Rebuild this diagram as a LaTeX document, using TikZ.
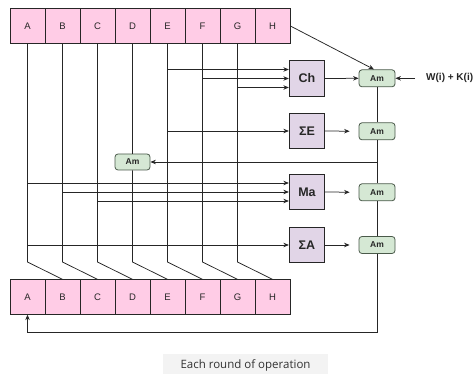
\documentclass[tikz,border=0pt]{standalone}
\usepackage{fontspec}
\setmainfont{Liberation Sans}
\newfontfamily\capfont{Open Sans}
\usetikzlibrary{arrows.meta,calc}
\definecolor{regfill}{HTML}{FFCCE6}
\definecolor{opfill}{HTML}{E1D5E7}
\definecolor{addfill}{HTML}{D5E8D4}
\definecolor{addline}{HTML}{4A5A4A}
\definecolor{wire}{HTML}{262626}
\definecolor{capfill}{HTML}{F3F3F3}
\tikzset{
  reg/.style={draw=wire, line width=0.8pt, fill=regfill, minimum width=35pt, minimum height=34.5pt,
    inner sep=0pt, font=\fontsize{9.5}{11}\selectfont, text=black!85},
  opbox/.style={draw=wire, line width=0.8pt, fill=opfill, minimum width=35.5pt, minimum height=35.5pt,
    inner sep=0pt, font=\fontsize{12.5}{14}\selectfont\bfseries, text=black!85},
  adder/.style={draw=addline, line width=0.8pt, fill=addfill, rounded corners=3pt, minimum width=36pt,
    minimum height=17pt, inner sep=0pt, font=\fontsize{8.5}{9}\selectfont\bfseries, text=black!85},
  wireline/.style={draw=wire, line width=0.75pt},
  arr/.style={wireline, -{Stealth[length=5.5pt,width=4.5pt]}},
}
\begin{document}
\begin{tikzpicture}[x=1pt,y=-1pt]
\useasboundingbox (0,0) rectangle (476,374);
\fill[white] (0,0) rectangle (476,374);

% register rows before and after the round
\foreach \l [count=\i from 0] in {A,B,C,D,E,F,G,H} {
  \node[reg] (t\l) at (27.5+35*\i, 26) {\l};
  \node[reg] (b\l) at (27.5+35*\i, 297) {\l};
}

% round functions
\node[opbox] (ch) at (307,78.5) {Ch};
\node[opbox] (se) at (307,131) {ΣE};
\node[opbox] (ma) at (307,192) {Ma};
\node[opbox] (sa) at (307,245) {ΣA};

% modular adders
\node[adder] (am1) at (377,78.3) {Am};
\node[adder] (am2) at (377,131.3) {Am};
\node[adder] (am3) at (377,192.3) {Am};
\node[adder] (am4) at (377,245) {Am};
\node[adder, minimum width=35pt, minimum height=16pt] (amd) at (132.5,162) {Am};

\node[anchor=west, inner sep=0pt, font=\fontsize{10}{11}\selectfont\bfseries, text=black!85] (wk) at (426,78.3) {W(i) + K(i)};

% bend points where each word shifts one place to the right
\foreach \l [count=\i from 0] in {A,B,C,D,E,F,G} {
  \coordinate (k\l) at (27.5+35*\i, 262);
}

% word shifts
\draw[wireline] (tA.south) -- (kA) -- (bB.north);
\draw[wireline] (tB.south) -- (kB) -- (bC.north);
\draw[wireline] (tC.south) -- (kC) -- (bD.north);
\draw[wireline] (tD.south) -- (amd.north);
\draw[wireline] (amd.south) -- (kD) -- (bE.north);
\draw[wireline] (tE.south) -- (kE) -- (bF.north);
\draw[wireline] (tF.south) -- (kF) -- (bG.north);
\draw[wireline] (tG.south) -- (kG) -- (bH.north);

% inputs of Ch
\draw[arr] ([yshift=9pt]ch.west -| tE.south) -- ([yshift=9pt]ch.west);
\draw[arr] (ch.west -| tF.south) -- (ch.west);
\draw[arr] ([yshift=-9pt]ch.west -| tG.south) -- ([yshift=-9pt]ch.west);
% input of Sigma E
\draw[arr] (se.west -| tE.south) -- (se.west);
% inputs of Ma
\draw[arr] ([yshift=9pt]ma.west -| tA.south) -- ([yshift=9pt]ma.west);
\draw[arr] (ma.west -| tB.south) -- (ma.west);
\draw[arr] ([yshift=-9pt]ma.west -| tC.south) -- ([yshift=-9pt]ma.west);
% input of Sigma A
\draw[arr] (sa.west -| tA.south) -- (sa.west);

% outputs into the adders
\draw[arr] (ch.east) -- (am1.west);
\draw[arr, shorten >=9pt] (se.east) -- (am2.west);
\draw[arr, shorten >=9pt] (ma.east) -- (am3.west);
\draw[arr, shorten >=9pt] (sa.east) -- (am4.west);
\draw[arr] (tH.east) -- ([xshift=-3pt]am1.north);
\draw[arr, shorten <=11pt] (wk.west) -- (am1.east);

% adder chain
\draw[wireline] (am1.south) -- (am2.north);
\draw[wireline] (am2.south) -- (am3.north);
\draw[wireline] (am3.south) -- (am4.north);
\draw[arr] (amd.east -| am2.south) -- (amd.east);
\coordinate (loopr) at (377,332);
\draw[arr] (am4.south) -- (loopr) -- (loopr -| bA.south) -- (bA.south);

% caption
\node[fill=capfill, minimum width=165pt, minimum height=22pt, inner sep=0pt] (cap) at (245.5,365) {};
\node[font=\capfont\fontsize{11.5}{13}\selectfont, text=black!80] at (245.5,365.5) {Each round of operation};
\end{tikzpicture}
\end{document}
